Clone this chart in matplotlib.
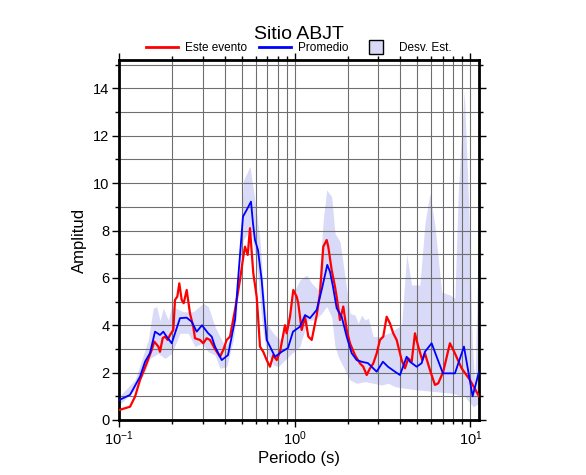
import numpy as np
import matplotlib
matplotlib.use("Agg")
import matplotlib.pyplot as plt
from matplotlib.lines import Line2D
from matplotlib.ticker import LogLocator, MultipleLocator

plt.rcParams['font.family'] = ['Liberation Sans', 'DejaVu Sans']
plt.rcParams['mathtext.default'] = 'regular'

# Este evento (red)
red_T = [0.1, 0.1155, 0.1233, 0.1317, 0.1438, 0.1535, 0.1588, 0.1674, 0.1711, 0.1773,
         0.1827, 0.1893, 0.1951, 0.2037, 0.2083, 0.2147, 0.2204, 0.2274, 0.2334, 0.2428,
         0.2535, 0.2647, 0.2707, 0.289, 0.3018, 0.3156, 0.3295, 0.3518, 0.3757, 0.3923,
         0.4102, 0.4283, 0.4574, 0.4883, 0.5099, 0.5213, 0.5402, 0.5567, 0.5692, 0.5813,
         0.6077, 0.6205, 0.6345, 0.6626, 0.6928, 0.7234, 0.7554, 0.7899, 0.8248, 0.8806,
         0.9005, 0.9403, 0.9818, 1.027, 1.048, 1.096, 1.145, 1.196, 1.25, 1.335,
         1.393, 1.455, 1.521, 1.553, 1.624, 1.696, 1.734, 1.811, 1.891, 1.977,
         2.064, 2.204, 2.353, 2.457, 2.569, 2.683, 2.802, 2.929, 3.058, 3.193,
         3.339, 3.486, 3.64, 3.806, 4.064, 4.244, 4.431, 4.634, 4.839, 5.052,
         5.324, 5.515, 5.889, 6.288, 6.566, 7.01, 7.653, 8.17, 8.924, 9.95, 11.2]
red_amp = [0.42, 0.56, 0.98, 1.69, 2.4, 2.96, 3.31, 3.1, 2.88, 3.46,
           3.52, 3.38, 3.59, 3.8, 5.07, 5.21, 5.77, 5.07, 4.93, 5.49,
           4.5, 3.94, 3.45, 3.38, 3.24, 3.45, 3.38, 3.0, 2.67, 2.96,
           3.38, 3.52, 4.65, 5.91, 6.9, 7.32, 6.97, 8.1, 7.1, 6.2,
           5.2, 4.22, 3.1, 2.88, 2.53, 2.25, 2.74, 2.53, 2.88, 4.0,
           3.66, 4.36, 5.49, 5.2, 4.93, 3.8, 4.36, 3.52, 3.38, 4.43,
           5.35, 7.32, 7.6, 7.32, 6.33, 5.63, 5.2, 4.22, 4.79, 3.8,
           3.24, 2.74, 2.39, 2.25, 1.9, 2.18, 2.39, 2.81, 3.38, 3.52,
           4.36, 4.08, 3.66, 3.38, 2.53, 2.18, 2.6, 2.46, 3.66, 3.1,
           2.53, 2.81, 2.11, 1.48, 1.55, 2.04, 3.24, 2.81, 2.18, 1.69, 1.0]

# Promedio (blue)
blue_T = [0.1, 0.1155, 0.1317, 0.1406, 0.150, 0.1603, 0.1711, 0.1787, 0.1868, 0.1995,
          0.2224, 0.2428, 0.2592, 0.2768, 0.2967, 0.321, 0.337, 0.3518, 0.3842, 0.4173,
          0.4574, 0.4757, 0.5078, 0.5331, 0.564, 0.579, 0.5943, 0.6181, 0.6489, 0.6776,
          0.6928, 0.7234, 0.7725, 0.8433, 0.9159, 0.978, 1.072, 1.145, 1.222, 1.335,
          1.424, 1.533, 1.588, 1.652, 1.734, 1.852, 1.977, 2.111, 2.254, 2.406,
          2.614, 2.929, 3.18, 3.396, 3.722, 3.975, 4.339, 4.531, 4.948, 5.283,
          5.515, 6.021, 6.43, 6.982, 8.17, 9.197, 10.3, 11.2]
blue_amp = [0.84, 1.06, 1.83, 2.46, 2.82, 3.73, 3.59, 3.73, 3.52, 3.24,
            4.3, 4.32, 4.15, 3.73, 4.0, 3.67, 3.52, 3.1, 2.53, 2.74,
            4.22, 5.9, 8.59, 8.87, 9.22, 8.3, 7.6, 7.18, 5.9, 4.22,
            3.38, 3.1, 2.67, 2.88, 3.04, 3.73, 3.94, 4.43, 4.3, 4.65,
            5.49, 6.55, 6.26, 5.63, 4.72, 4.36, 3.52, 2.82, 2.53, 2.46,
            2.4, 2.04, 2.46, 2.25, 2.04, 1.9, 2.67, 2.46, 2.25, 2.4,
            2.88, 3.24, 2.67, 1.97, 1.97, 3.1, 1.0, 2.04]

# Desv. Est. band (upper / lower envelopes)
up_T = [0.1, 0.1233, 0.1468, 0.1567, 0.1639, 0.1711, 0.1787, 0.1908, 0.1995, 0.2323,
        0.2647, 0.3018, 0.3223, 0.3518, 0.4012, 0.4473, 0.4775, 0.4993, 0.5099, 0.5567,
        0.6077, 0.6345, 0.6626, 0.6928, 0.7554, 0.8248, 0.9005, 0.9818, 1.072, 1.17,
        1.25, 1.363, 1.455, 1.521, 1.624, 1.696, 1.811, 1.933, 2.064, 2.204,
        2.301, 2.406, 2.513, 2.624, 2.802, 3.058, 3.41, 4.064, 4.339, 4.634,
        5.166, 5.515, 5.889, 6.288, 6.865, 7.653, 8.17, 8.53, 9.23, 9.73,
        10.25, 10.62, 11.2]
up_amp = [0.98, 1.69, 3.38, 4.72, 4.79, 4.2, 4.72, 4.22, 4.79, 4.57,
          4.57, 4.93, 4.79, 3.94, 3.1, 3.66, 5.91, 8.73, 10.1, 10.7,
          8.73, 7.6, 5.63, 4.08, 3.66, 3.38, 4.08, 5.35, 5.91, 6.12,
          5.77, 5.49, 8.45, 9.71, 9.43, 7.88, 7.53, 6.05, 4.5, 4.43,
          4.08, 4.43, 4.22, 4.3, 3.52, 3.52, 3.66, 4.0, 7.0, 5.7,
          5.7, 8.3, 9.57, 8.2, 5.4, 5.28, 5.14, 9.57, 13.9, 9.57,
          3.24, 1.5, 8.6]
lo_T = [0.1, 0.1233, 0.1406, 0.150, 0.1674, 0.1827, 0.1995, 0.2224, 0.248, 0.2707,
        0.2955, 0.3223, 0.3518, 0.3757, 0.4102, 0.4473, 0.4677, 0.4883, 0.5099, 0.5444,
        0.5692, 0.5943, 0.6205, 0.6489, 0.6776, 0.7075, 0.7554, 0.8066, 0.8806, 0.9616,
        1.072, 1.096, 1.196, 1.305, 1.424, 1.521, 1.624, 1.696, 1.771, 1.933,
        2.064, 2.254, 2.513, 2.802, 3.127, 3.41, 3.722, 4.244, 5.052, 6.288,
        7.826, 9.318, 10.39, 11.2]
lo_amp = [0.63, 1.27, 2.04, 2.6, 2.81, 2.6, 2.81, 3.66, 3.66, 3.1,
          3.24, 2.88, 2.74, 2.18, 2.25, 3.38, 4.5, 6.62, 7.6, 7.9,
          7.8, 7.04, 5.91, 4.22, 3.24, 2.74, 2.32, 2.25, 2.53, 2.81,
          3.1, 3.38, 4.22, 4.22, 4.5, 4.79, 4.36, 3.1, 2.67, 2.11,
          1.69, 1.55, 1.62, 1.55, 1.48, 1.55, 1.41, 1.34, 1.27, 1.2,
          1.13, 0.98, 0.56, 0.7]

fig = plt.figure(figsize=(5.86, 4.75), dpi=100)
ax = fig.add_axes([0.2031, 0.1158, 0.6143, 0.7579])

# band: interpolate both envelopes onto a common period grid
band_T = np.array(sorted(set(up_T) | set(lo_T)))
band_up = np.interp(np.log10(band_T), np.log10(up_T), up_amp)
band_lo = np.interp(np.log10(band_T), np.log10(lo_T), lo_amp)
ax.fill_between(band_T, band_lo, band_up, color='#d9d9f8', lw=0, zorder=1)

ax.plot(red_T, red_amp, color='#ff0000', lw=1.6, zorder=3)
ax.plot(blue_T, blue_amp, color='#0000ff', lw=1.3, zorder=4)

ax.set_xscale('log')
ax.set_xlim(0.1, 11.2)
ax.set_ylim(0, 15.2)
ax.xaxis.set_major_locator(LogLocator(base=10, numticks=10))
ax.xaxis.set_minor_locator(LogLocator(base=10, subs=np.arange(2, 10), numticks=20))
ax.yaxis.set_major_locator(MultipleLocator(2))
ax.yaxis.set_minor_locator(MultipleLocator(1))

ax.grid(True, which='both', color='#6e6e6e', lw=0.8, zorder=2)
ax.tick_params(which='both', direction='out', top=True, right=True, labelsize=10.5,
               width=1, pad=2)
ax.tick_params(which='major', length=5)
ax.tick_params(which='minor', length=3)
for s in ax.spines.values():
    s.set_linewidth(2)

ax.set_xlabel('Periodo (s)', fontsize=12, labelpad=2)
ax.set_ylabel('Amplitud', fontsize=12, labelpad=4)
ax.set_title('Sitio ABJT', fontsize=14, pad=15)

handles = [Line2D([], [], color='#ff0000', lw=2),
           Line2D([], [], color='#0000ff', lw=2),
           Line2D([], [], ls='none', marker='s', markersize=10,
                  markerfacecolor='#d9d9f8', markeredgecolor='black', markeredgewidth=1)]
ax.legend(handles, ['Este evento', 'Promedio', 'Desv. Est.'], loc='lower center',
          bbox_to_anchor=(0.5, 1.0), ncol=3, frameon=False, fontsize=8.5,
          handlelength=2.7, handletextpad=0.6, columnspacing=1.0, borderaxespad=0.1)

fig.savefig('out.png', dpi=100)
